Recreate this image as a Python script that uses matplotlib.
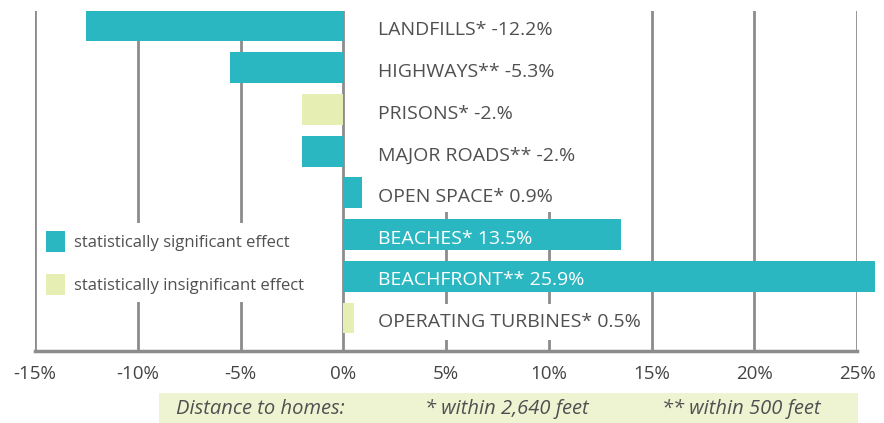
import matplotlib
matplotlib.use("Agg")
import matplotlib.pyplot as plt
from matplotlib.patches import Patch, Rectangle

plt.rcParams['font.family'] = ['Open Sans', 'DejaVu Sans']

# bar lengths, labels as printed
categories = ['LANDFILLS*', 'HIGHWAYS**', 'PRISONS*', 'MAJOR ROADS**',
              'OPEN SPACE*', 'BEACHES*', 'BEACHFRONT**', 'OPERATING TURBINES*']
values = [-12.5, -5.5, -2.0, -2.0, 0.9, 13.5, 25.9, 0.5]
value_labels = ['-12.2%', '-5.3%', '-2.%', '-2.%', '0.9%', '13.5%', '25.9%', '0.5%']
significant = [True, True, False, True, True, True, True, False]
xticks = [-15, -10, -5, 0, 5, 10, 15, 20, 25]

teal = '#2ab7c1'
pale = '#e6eeb4'
gridcol = '#8c8c8c'
textcol = '#505050'

fig = plt.figure(figsize=(8.84, 4.23), dpi=100)
ax = fig.add_axes([35/884, 1-351/423, (857-35)/884, 340/423])

ypos = list(range(len(categories)))
colors = [teal if s else pale for s in significant]
ax.barh(ypos, values, height=0.74, color=colors, zorder=2, clip_on=False)

ax.set_xlim(-15, 25)
ax.set_ylim(7.79, -0.36)
ax.set_xticks(xticks)
ax.set_xticklabels([f'{t}%' for t in xticks], fontsize=13.5, color='#444444')
ax.set_yticks([])
ax.tick_params(axis='x', length=0, pad=10)
ax.grid(axis='x', color=gridcol, linewidth=2, zorder=0.5)
ax.set_axisbelow(True)
for s in ['top', 'right', 'left']:
    ax.spines[s].set_visible(False)
ax.spines['bottom'].set_color(gridcol)
ax.spines['bottom'].set_linewidth(2.5)

# white panel behind the upper labels (hides the 5% and 10% lines there)
ax.add_patch(Rectangle((1.2, -0.36), 10.4, 4.82, facecolor='white',
                       edgecolor='none', zorder=1))

# category labels
for i, (c, v) in enumerate(zip(categories, value_labels)):
    on_bar = significant[i] and values[i] > 5
    kw = {}
    if i == len(categories) - 1:
        kw['bbox'] = dict(boxstyle='square,pad=0.45', facecolor='white',
                          edgecolor='none')
    ax.text(1.67, i + 0.1, f'{c} {v}', va='center', ha='left', fontsize=14,
            color='white' if on_bar else textcol, zorder=3, **kw)

# legend
handles = [Patch(facecolor=teal, edgecolor='none', label='statistically significant effect'),
           Patch(facecolor=pale, edgecolor='none', label='statistically insignificant effect')]
leg = ax.legend(handles=handles, loc='upper left', bbox_to_anchor=(0.004, 0.376),
                frameon=True, fancybox=False, framealpha=1, edgecolor='none',
                fontsize=12, labelcolor=textcol, handlelength=1.15,
                handleheight=1.55, handletextpad=0.55, labelspacing=1.35,
                borderpad=0.45, borderaxespad=0.0)
leg.set_zorder(4)

# footer note
fig.patches.append(Rectangle((159/884, 0), (858-159)/884, 30/423,
                             transform=fig.transFigure, facecolor='#eef4d2',
                             edgecolor='none', zorder=0))
fy = 14/423
fig.text(176/884, fy, 'Distance to homes:', style='italic', fontsize=14.5,
         color=textcol, va='center')
fig.text(425/884, fy, '* within 2,640 feet', style='italic', fontsize=14.5,
         color=textcol, va='center')
fig.text(662/884, fy, '** within 500 feet', style='italic', fontsize=14.5,
         color=textcol, va='center')

fig.savefig('out.png', dpi=100)
